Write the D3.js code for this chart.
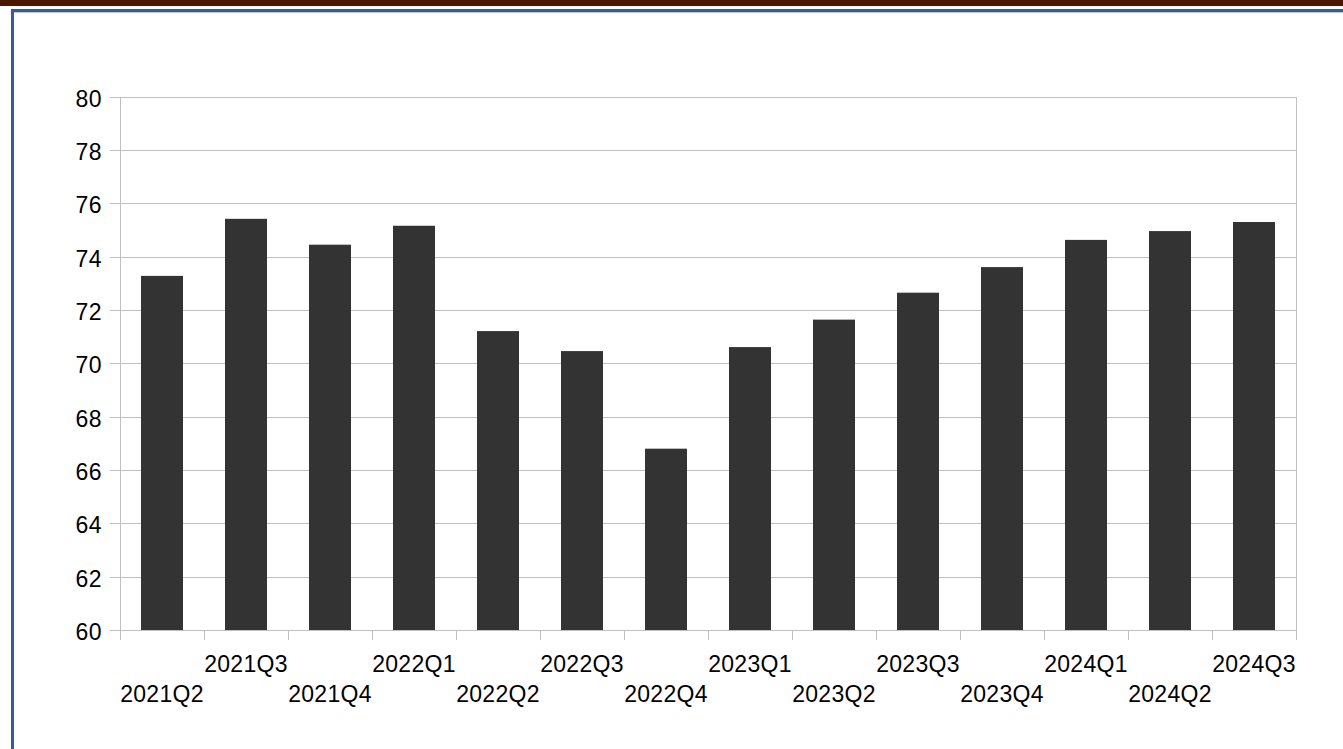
<!DOCTYPE html>
<html>
<head>
<meta charset="utf-8">
<script src="https://cdn.jsdelivr.net/npm/d3@7/dist/d3.min.js"></script>
<style>
html,body{margin:0;padding:0;background:#fff;}
svg{display:block;}
</style>
</head>
<body>
<svg id="chart" width="1343" height="749"></svg>
<script>
const categories = ["2021Q2","2021Q3","2021Q4","2022Q1","2022Q2","2022Q3","2022Q4","2023Q1","2023Q2","2023Q3","2023Q4","2024Q1","2024Q2","2024Q3"];
const values = [73.28, 75.42, 74.45, 75.16, 71.21, 70.46, 66.8, 70.61, 71.64, 72.65, 73.61, 74.63, 74.96, 75.30];
const yTicks = [60,62,64,66,68,70,72,74,76,78,80];
const yDomain = [60, 80];

const svg = d3.select("#chart");
const W = 1343, H = 749;
const plot = {left:120, right:1296, top:96.7, bottom:630};
const font = "'Liberation Sans', Arial, sans-serif";

// header band and frame
svg.append("rect").attr("x",0).attr("y",0).attr("width",W).attr("height",6).attr("fill","#4a1800");
svg.append("rect").attr("x",11).attr("y",9).attr("width",W-11).attr("height",3).attr("fill","#3a5b96");
svg.append("rect").attr("x",14).attr("y",12).attr("width",W-14).attr("height",1).attr("fill","#b7c5de");
svg.append("rect").attr("x",11).attr("y",9).attr("width",3).attr("height",H-9).attr("fill","#3a5b96");

const x = d3.scaleBand().domain(categories).range([plot.left, plot.right]).paddingInner(0.5).paddingOuter(0.25);
const y = d3.scaleLinear().domain(yDomain).range([plot.bottom, plot.top]);

const gridColor = "#c0c0c0";
// gridlines
svg.append("g").selectAll("line").data(yTicks).join("line")
  .attr("x1", plot.left - 10).attr("x2", plot.right)
  .attr("y1", d => Math.round(y(d)) + 0.5).attr("y2", d => Math.round(y(d)) + 0.5)
  .attr("stroke", gridColor).attr("stroke-width", 1);

// right border
svg.append("line").attr("x1", plot.right+0.5).attr("x2", plot.right+0.5)
  .attr("y1", Math.round(plot.top)).attr("y2", plot.bottom+10).attr("stroke", gridColor);

// bars
svg.append("g").selectAll("rect").data(values).join("rect")
  .attr("x", (d,i) => x(categories[i]))
  .attr("width", x.bandwidth())
  .attr("y", d => y(d))
  .attr("height", d => y(yDomain[0]) - y(d))
  .attr("fill", "#333333");

// y axis line
svg.append("line").attr("x1", plot.left+0.5).attr("x2", plot.left+0.5)
  .attr("y1", Math.round(plot.top)).attr("y2", plot.bottom).attr("stroke", gridColor);

// x axis ticks at band boundaries
const step = x.step();
const boundaries = d3.range(categories.length + 1).map(i => plot.left + i * step);
svg.append("g").selectAll("line").data(boundaries).join("line")
  .attr("x1", d => Math.round(d)+0.5).attr("x2", d => Math.round(d)+0.5)
  .attr("y1", plot.bottom).attr("y2", plot.bottom + 10)
  .attr("stroke", gridColor);

// y tick labels
svg.append("g").selectAll("text").data(yTicks).join("text")
  .attr("x", 102).attr("y", d => y(d) + 10)
  .attr("text-anchor", "end")
  .attr("font-family", font).attr("font-size", 23).attr("fill", "#000")
  .attr("letter-spacing", "0.5px")
  .text(d => d);

// x tick labels (staggered)
svg.append("g").selectAll("text").data(categories).join("text")
  .attr("x", d => x(d) + x.bandwidth()/2)
  .attr("y", (d,i) => i % 2 === 0 ? 701.5 : 672)
  .attr("text-anchor", "middle")
  .attr("font-family", font).attr("font-size", 23).attr("fill", "#000")
  .attr("letter-spacing", "0.3px")
  .text(d => d);
</script>
</body>
</html>
